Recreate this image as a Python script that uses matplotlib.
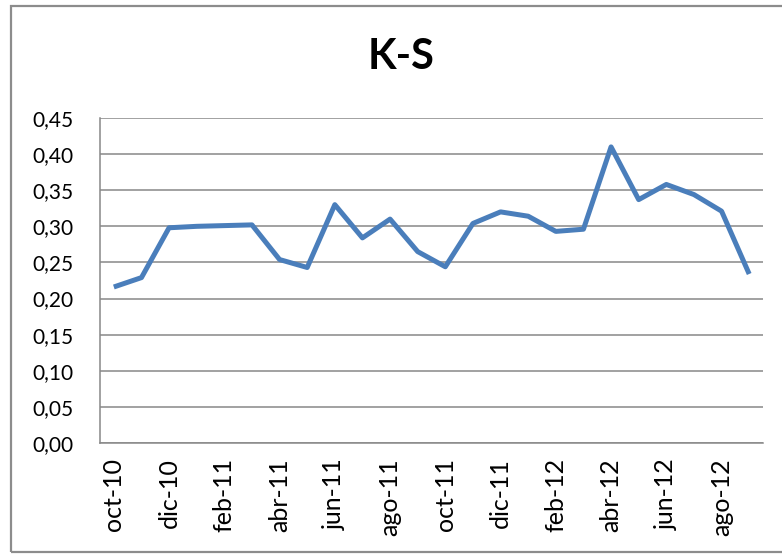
import matplotlib.pyplot as plt
from matplotlib.patches import Rectangle

# monthly K-S values, oct-10 .. sep-12
months = ["oct-10", "nov-10", "dic-10", "ene-11", "feb-11", "mar-11",
          "abr-11", "may-11", "jun-11", "jul-11", "ago-11", "sep-11",
          "oct-11", "nov-11", "dic-11", "ene-12", "feb-12", "mar-12",
          "abr-12", "may-12", "jun-12", "jul-12", "ago-12", "sep-12"]
ks = [0.216, 0.229, 0.298, 0.300, 0.301, 0.302,
      0.254, 0.243, 0.330, 0.284, 0.310, 0.265,
      0.244, 0.304, 0.320, 0.314, 0.293, 0.296,
      0.410, 0.337, 0.358, 0.344, 0.321, 0.234]
y_ticks = [0.00, 0.05, 0.10, 0.15, 0.20, 0.25, 0.30, 0.35, 0.40, 0.45]
y_labels = ["0,00", "0,05", "0,10", "0,15", "0,20", "0,25",
            "0,30", "0,35", "0,40", "0,45"]

plt.rcParams['font.family'] = ['Lato', 'DejaVu Sans']
grid_col = "#888888"

fig = plt.figure(figsize=(7.82, 5.54), dpi=100)
ax = fig.add_axes([0.1279, 0.2004, 0.8478, 0.5866])

x = list(range(len(months)))
ax.plot(x, ks, color="#4a7ebb", lw=3.6, solid_joinstyle="round",
        solid_capstyle="butt", zorder=3)

ax.set_xlim(-0.5, len(months) - 0.5)
ax.set_ylim(0, 0.45)
ax.set_yticks(y_ticks)
ax.set_yticklabels(y_labels)
ax.set_xticks(x[::2])
ax.set_xticklabels(months[::2], rotation=90)
ax.tick_params(axis="y", length=0, pad=19, labelsize=15)
ax.tick_params(axis="x", length=0, pad=11, labelsize=18)
ax.yaxis.grid(True, color=grid_col, lw=1.1)
ax.set_axisbelow(True)
for side in ["top", "right"]:
    ax.spines[side].set_visible(False)
for side in ["left", "bottom"]:
    ax.spines[side].set_color(grid_col)
    ax.spines[side].set_linewidth(1.1)

fig.text(0.513, 0.897, "K-S", ha="center", va="center",
         fontsize=30, fontweight="bold")

# outer chart frame, runs off the right edge
fig.patches.append(Rectangle((0.0141, 0.0036), 1.1, 0.9856,
                             transform=fig.transFigure, fill=False,
                             edgecolor="#8c8c8c", lw=1.6, clip_on=False))

plt.savefig("out.png", dpi=100)
